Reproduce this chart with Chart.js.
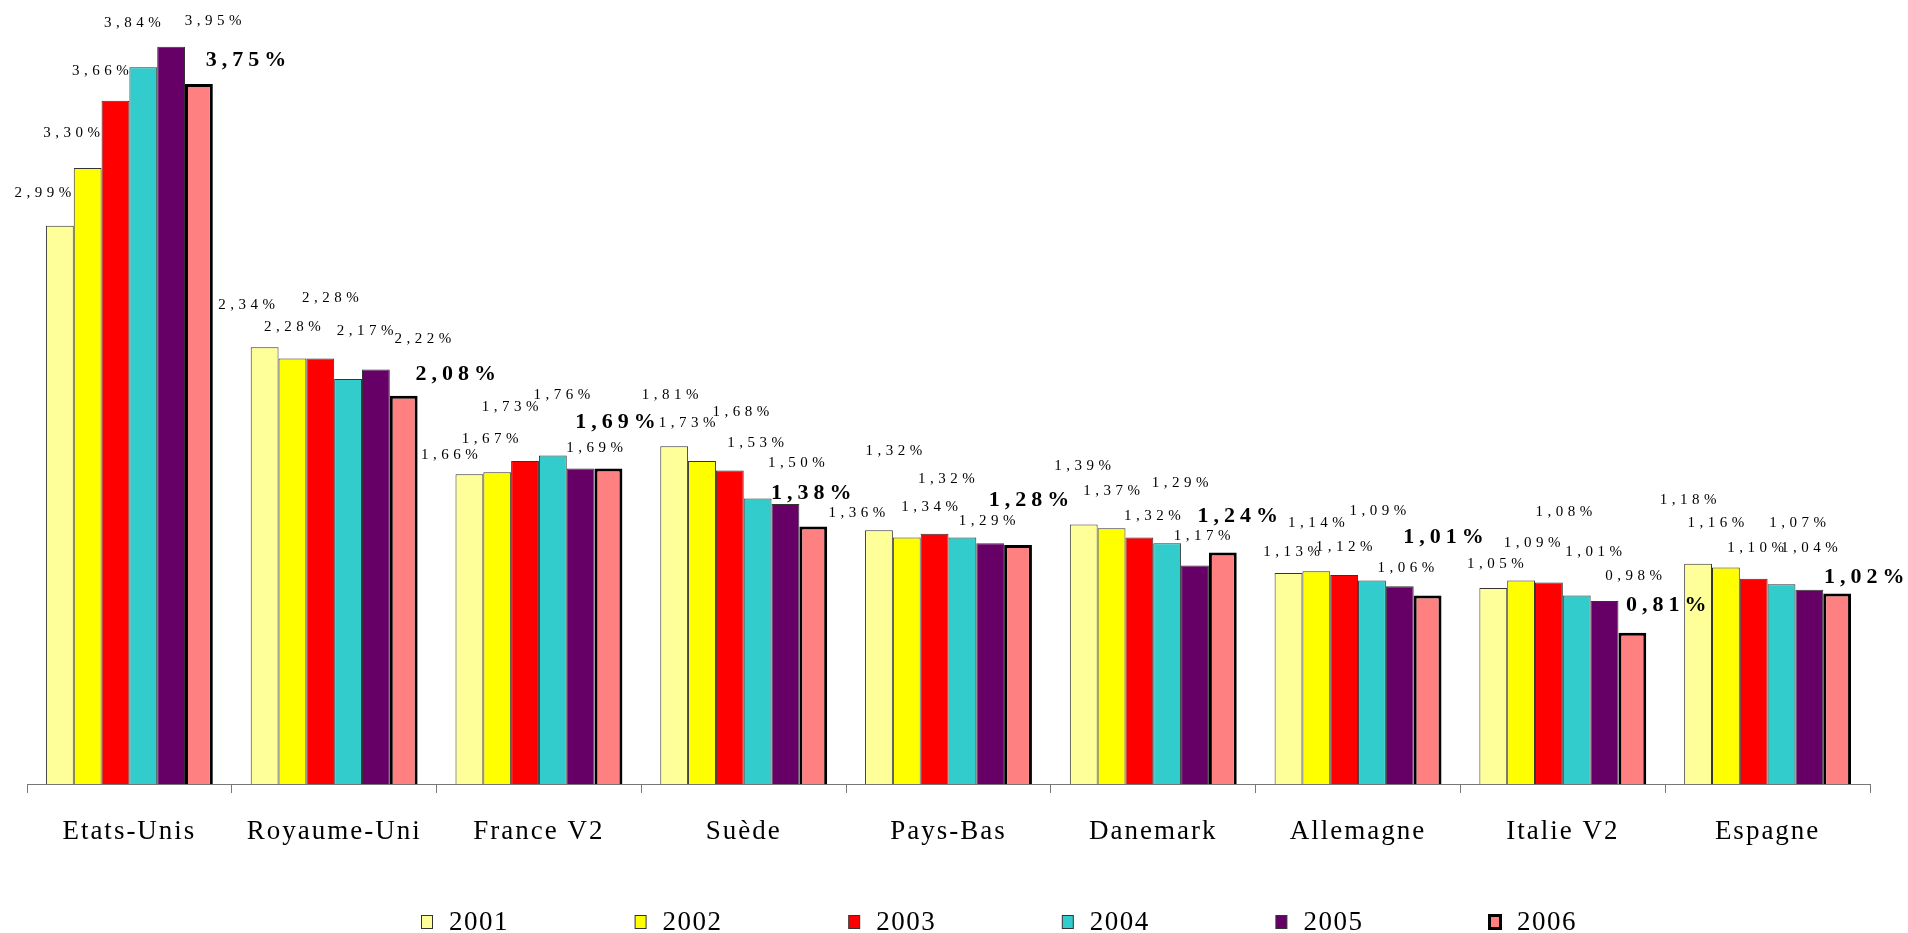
<!DOCTYPE html>
<html lang="fr">
<head>
<meta charset="utf-8">
<title>Comparaison internationale 2001-2006</title>
<script src="https://cdn.jsdelivr.net/npm/chart.js@4.4.1/dist/chart.umd.min.js"></script>
<style>
  html, body { margin: 0; padding: 0; background: #fff; }
  #wrap { position: relative; width: 1908px; height: 933px; }
</style>
</head>
<body>
<div id="wrap"><canvas id="chart"></canvas></div>
<script>
// categories and series (values in %)
const countries = ['Etats-Unis', 'Royaume-Uni', 'France V2', 'Suède', 'Pays-Bas',
                   'Danemark', 'Allemagne', 'Italie V2', 'Espagne'];
const years = ['2001', '2002', '2003', '2004', '2005', '2006'];

const v2001 = [2.99, 2.34, 1.66, 1.81, 1.36, 1.39, 1.13, 1.05, 1.18];
const v2002 = [3.30, 2.28, 1.67, 1.73, 1.32, 1.37, 1.14, 1.09, 1.16];
const v2003 = [3.66, 2.28, 1.73, 1.68, 1.34, 1.32, 1.12, 1.08, 1.10];
const v2004 = [3.84, 2.17, 1.76, 1.53, 1.32, 1.29, 1.09, 1.01, 1.07];
const v2005 = [3.95, 2.22, 1.69, 1.50, 1.29, 1.17, 1.06, 0.98, 1.04];
const v2006 = [3.75, 2.08, 1.69, 1.38, 1.28, 1.24, 1.01, 0.81, 1.02];

const seriesValues = [v2001, v2002, v2003, v2004, v2005, v2006];
const fillColors = ['#FFFF99', '#FFFF00', '#FF0000', '#33CCCC', '#660066', '#FF8080'];

// hand placed value labels: [dx, dy] from the top centre of each bar
const labelOffsets = [
    [[-17, -33], [-16, -35], [-15, -30], [-11, -44], [42, -26], [47, -24]],
    [[-18, -42], [0, -31], [10, -60], [17, -48], [47, -31], [52, -21]],
    [[-20, -19], [-7, -33], [-15, -54], [9, -60], [14, -20], [7, -46]],
    [[-4, -51], [-15, -38], [11, -58], [-2, -55], [11, -41], [-2, -33]],
    [[-22, -17], [-13, -87], [-5, -27], [-16, -59], [-3, -22], [11, -45]],
    [[-1, -58], [0, -37], [13, -22], [13, -60], [7, -30], [15, -36]],
    [[3, -21], [0, -48], [0, -28], [6, -69], [6, -18], [16, -58]],
    [[2, -24], [11, -37], [15, -70], [17, -43], [29, -25], [34, -27]],
    [[-10, -64], [-10, -44], [2, -31], [16, -61], [0, -42], [27, -16]]
];

const SERIF = '"Liberation Serif", "Times New Roman", serif';

const datasets = years.map((y, i) => ({
    label: y,
    data: seriesValues[i],
    backgroundColor: fillColors[i],
    borderColor: i === 5 ? '#000000' : '#333333',
    borderWidth: i === 5 ? 3 : 1
}));

const fmt = v => v.toFixed(2).replace('.', ',') + '%';

// value labels above bars
const valueLabels = {
    id: 'valueLabels',
    afterDatasetsDraw(chart) {
        const ctx = chart.ctx;
        ctx.save();
        ctx.fillStyle = '#000';
        ctx.textAlign = 'center';
        ctx.textBaseline = 'middle';
        chart.data.datasets.forEach((ds, di) => {
            const bold = di === 5;
            const spacing = bold ? 5 : 4.5;
            ctx.font = bold ? 'bold 22px ' + SERIF : '15px ' + SERIF;
            ctx.letterSpacing = spacing + 'px';
            chart.getDatasetMeta(di).data.forEach((bar, ci) => {
                const off = labelOffsets[ci][di];
                ctx.fillText(fmt(ds.data[ci]), bar.x + off[0] + spacing / 2, bar.y + off[1]);
            });
        });
        ctx.restore();
    }
};

// legend row at the bottom
const bottomLegend = {
    id: 'bottomLegend',
    afterDraw(chart) {
        const ctx = chart.ctx;
        ctx.save();
        ctx.font = '27px ' + SERIF;
        ctx.letterSpacing = '1.5px';
        ctx.textAlign = 'left';
        ctx.textBaseline = 'middle';
        const y = 922;
        chart.data.datasets.forEach((ds, i) => {
            const cx = 427 + i * 213.6;
            const w = 11, h = 13;
            ctx.fillStyle = ds.backgroundColor;
            ctx.fillRect(cx - w / 2, y - h / 2, w, h);
            ctx.lineWidth = ds.borderWidth;
            ctx.strokeStyle = ds.borderColor;
            ctx.strokeRect(cx - w / 2, y - h / 2, w, h);
            ctx.fillStyle = '#000';
            ctx.fillText(ds.label, cx + 22, y + 1);
        });
        ctx.restore();
    }
};

// spaced out axis text
const axisSpacing = {
    id: 'axisSpacing',
    beforeDraw(chart) {
        chart.ctx.letterSpacing = '2px';
    }
};

new Chart(document.getElementById('chart'), {
    type: 'bar',
    data: { labels: countries, datasets: datasets },
    options: {
        responsive: true,
        maintainAspectRatio: false,
        animation: false,
        layout: { padding: { left: 27, right: 38, top: 0, bottom: 0 } },
        datasets: {
            bar: { categoryPercentage: 0.815, barPercentage: 1.0 }
        },
        plugins: {
            legend: { display: false },
            tooltip: { enabled: false }
        },
        scales: {
            x: {
                afterFit(scale) { scale.height = 149; },
                grid: {
                    offset: true,
                    drawOnChartArea: false,
                    drawTicks: true,
                    tickLength: 9,
                    color: '#777777',
                    lineWidth: 1
                },
                border: { display: true, color: '#777777', width: 1 },
                ticks: {
                    color: '#000',
                    padding: 23,
                    maxRotation: 0,
                    autoSkip: false,
                    font: { family: SERIF, size: 27 }
                }
            },
            y: {
                display: false,
                min: 0,
                max: 4.2
            }
        }
    },
    plugins: [axisSpacing, valueLabels, bottomLegend]
});
</script>
</body>
</html>
